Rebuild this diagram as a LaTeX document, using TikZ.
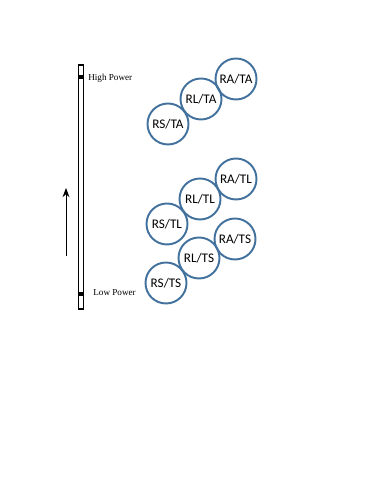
\documentclass[tikz,border=0pt]{standalone}
\usepackage{fontspec}
\setmainfont{Liberation Serif}
\newfontfamily\calibri{Carlito}
\usepackage{tikz}
\usetikzlibrary{arrows.meta, positioning, calc}
\definecolor{ringblue}{HTML}{41719C}

\begin{document}
\begin{tikzpicture}[
    >=Stealth,
    state/.style={circle, draw=ringblue, line width=1.1pt, minimum size=0.82cm, inner sep=0pt, font=\calibri\fontsize{7.5}{8}\selectfont},
    power label/.style={anchor=west, inner sep=0pt, font=\fontsize{5.2}{6}\selectfont},
    scale bar/.style={draw=black, line width=0.7pt}
]
    \useasboundingbox (0,0) rectangle (7.5,10);

    % Power scale
    \draw[scale bar] (1.575,3.82) rectangle (1.665,8.70);
    \fill (1.575,8.41) rectangle (1.665,8.49);
    \fill (1.575,4.08) rectangle (1.665,4.16);
    \node[power label] (high) at (1.76,8.44) {High Power};
    \node[power label] (low) at (1.86,4.14) {Low Power};

    % Direction of increasing power
    \coordinate (arrow bottom) at (1.32,4.88);
    \coordinate (arrow top) at (1.32,6.24);
    \draw[->, line width=0.5pt] (arrow bottom) -- (arrow top);

    % Place states, TA group
    \node[state] (ra-ta) at (4.72,8.42) {RA/TA};
    \node[state] (rl-ta) at (4.02,8.02) {RL/TA};
    \node[state] (rs-ta) at (3.36,7.52) {RS/TA};

    % TL group
    \node[state] (ra-tl) at (4.72,6.42) {RA/TL};
    \node[state] (rl-tl) at (4.00,6.02) {RL/TL};
    \node[state] (rs-tl) at (3.34,5.52) {RS/TL};

    % TS group
    \node[state] (ra-ts) at (4.70,5.22) {RA/TS};
    \node[state] (rl-ts) at (3.98,4.84) {RL/TS};
    \node[state] (rs-ts) at (3.32,4.34) {RS/TS};

\end{tikzpicture}
\end{document}
